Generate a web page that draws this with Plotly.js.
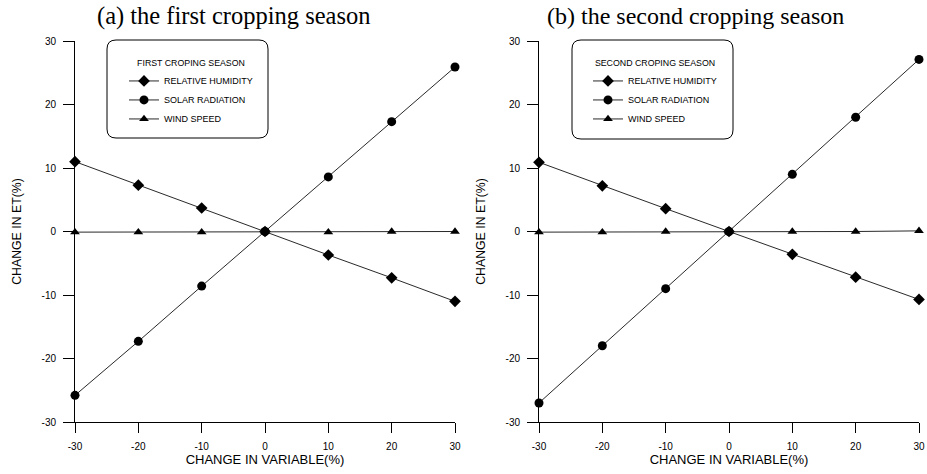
<!DOCTYPE html>
<html>
<head>
<meta charset="utf-8">
<script src="https://cdn.plot.ly/plotly-3.0.1.min.js"></script>
<style>html,body{margin:0;padding:0;background:#fff;}#chart{width:927px;height:474px;}</style>
</head>
<body>
<div id="chart"></div>
<script>
// ---- data ----
const changeVariable = [-30, -20, -10, 0, 10, 20, 30];
const xTickVals = [-30, -20, -10, 0, 10, 20, 30];
const yTickVals = [-30, -20, -10, 0, 10, 20, 30];
const seriesNames = ["RELATIVE HUMIDITY", "SOLAR RADIATION", "WIND SPEED"];

const firstRH = [11.0, 7.3, 3.7, 0, -3.7, -7.3, -11.0];
const firstSR = [-25.8, -17.3, -8.6, 0, 8.6, 17.3, 25.9];
const firstWS = [-0.1, -0.1, -0.1, 0, -0.1, 0.0, 0.0];

const secondRH = [10.9, 7.2, 3.6, 0, -3.6, -7.2, -10.7];
const secondSR = [-27.0, -18.0, -9.0, 0, 9.0, 18.0, 27.1];
const secondWS = [-0.1, -0.1, 0.0, 0, 0.0, 0.0, 0.1];

const panelTitles = ["(a) the first cropping season", "(b) the second cropping season"];
const legendTitles = ["FIRST CROPING SEASON", "SECOND CROPING SEASON"];
const xTitle = "CHANGE IN VARIABLE(%)";
const yTitle = "CHANGE IN ET(%)";

// ---- layout helpers ----
const W = 927, H = 474;
const px = v => v / W;
const py = v => 1 - v / H;
const symbols = ["diamond", "circle", "triangle-up"];
const sizes = [9, 9, 8.5];

function mkTraces(vals, xa, ya, leg) {
  return vals.map((v, i) => ({
    type: "scatter", mode: "lines+markers",
    x: changeVariable, y: v, xaxis: xa, yaxis: ya, legend: leg,
    name: seriesNames[i],
    line: {color: "#111", width: 0.9},
    marker: {symbol: symbols[i], size: sizes[i], color: "#000"},
    cliponaxis: false
  }));
}

const traces = [].concat(
  mkTraces([firstRH, firstSR, firstWS], "x", "y", "legend"),
  mkTraces([secondRH, secondSR, secondWS], "x2", "y2", "legend2")
);

function roundRect(x0, y0, x1, y1, r) {
  const rx = r / W, ry = r / H;
  const X0 = px(x0), X1 = px(x1), Y0 = py(y0), Y1 = py(y1);
  return `M ${X0 + rx},${Y0} L ${X1 - rx},${Y0} Q ${X1},${Y0} ${X1},${Y0 - ry} ` +
         `L ${X1},${Y1 + ry} Q ${X1},${Y1} ${X1 - rx},${Y1} L ${X0 + rx},${Y1} ` +
         `Q ${X0},${Y1} ${X0},${Y1 + ry} L ${X0},${Y0 - ry} Q ${X0},${Y0} ${X0 + rx},${Y0} Z`;
}

const SANS = "Liberation Sans, Arial, sans-serif";
const tickFont = {family: SANS, size: 10, color: "#000"};

function xax(domain, anchor) {
  return {
    domain: domain, anchor: anchor, range: [-30, 30],
    tickvals: xTickVals, ticktext: xTickVals.map(String),
    ticks: "outside", ticklen: 10, tickwidth: 1, tickcolor: "#000",
    ticklabelstandoff: 5,
    showline: true, linecolor: "#000", linewidth: 1,
    showgrid: false, zeroline: false, tickfont: tickFont,
    title: {text: xTitle, font: {family: SANS, size: 13, color: "#000"}, standoff: 2}
  };
}
function yax(domain, anchor) {
  return {
    domain: domain, anchor: anchor, range: [-30, 30],
    tickvals: yTickVals, ticktext: yTickVals.map(String),
    ticks: "outside", ticklen: 11, tickwidth: 1, tickcolor: "#000",
    ticklabelstandoff: 5,
    showline: true, linecolor: "#000", linewidth: 1,
    showgrid: false, zeroline: false, tickfont: tickFont,
    title: {text: yTitle, font: {family: SANS, size: 12.3, color: "#000"}, standoff: 17}
  };
}

const yDom = [1 - 422 / H, 1 - 41 / H];
const legendFont = {family: SANS, size: 9, color: "#000"};
const legTitleFont = {family: SANS, size: 8.8, color: "#000"};

const layout = {
  width: W, height: H,
  margin: {l: 0, r: 0, t: 0, b: 0},
  paper_bgcolor: "#fff", plot_bgcolor: "#fff",
  showlegend: true,
  xaxis: xax([px(75), px(455)], "y"),
  yaxis: yax(yDom, "x"),
  xaxis2: xax([px(539), px(919)], "y2"),
  yaxis2: yax(yDom, "x2"),
  legend: {
    x: px(124), y: py(55), xanchor: "left", yanchor: "top",
    bgcolor: "rgba(0,0,0,0)", borderwidth: 0,
    font: legendFont, tracegroupgap: 0,
    title: {text: legendTitles[0], side: "top center", font: legTitleFont}
  },
  legend2: {
    x: px(588), y: py(55), xanchor: "left", yanchor: "top",
    bgcolor: "rgba(0,0,0,0)", borderwidth: 0,
    font: legendFont, tracegroupgap: 0,
    title: {text: legendTitles[1], side: "top center", font: legTitleFont}
  },
  shapes: [
    {type: "path", xref: "paper", yref: "paper", path: roundRect(107, 40, 268, 138, 9), line: {color: "#000", width: 1}},
    {type: "path", xref: "paper", yref: "paper", path: roundRect(572, 40, 733, 139, 9), line: {color: "#000", width: 1}}
  ],
  annotations: [
    {text: panelTitles[0], xref: "paper", yref: "paper", x: px(234), y: py(16), xanchor: "center", yanchor: "middle", showarrow: false,
     font: {family: "Liberation Serif, Times New Roman, serif", size: 24.5, color: "#000"}},
    {text: panelTitles[1], xref: "paper", yref: "paper", x: px(695), y: py(16), xanchor: "center", yanchor: "middle", showarrow: false,
     font: {family: "Liberation Serif, Times New Roman, serif", size: 24, color: "#000"}}
  ]
};

Plotly.newPlot("chart", traces, layout, {displayModeBar: false, staticPlot: true});
</script>
</body>
</html>
